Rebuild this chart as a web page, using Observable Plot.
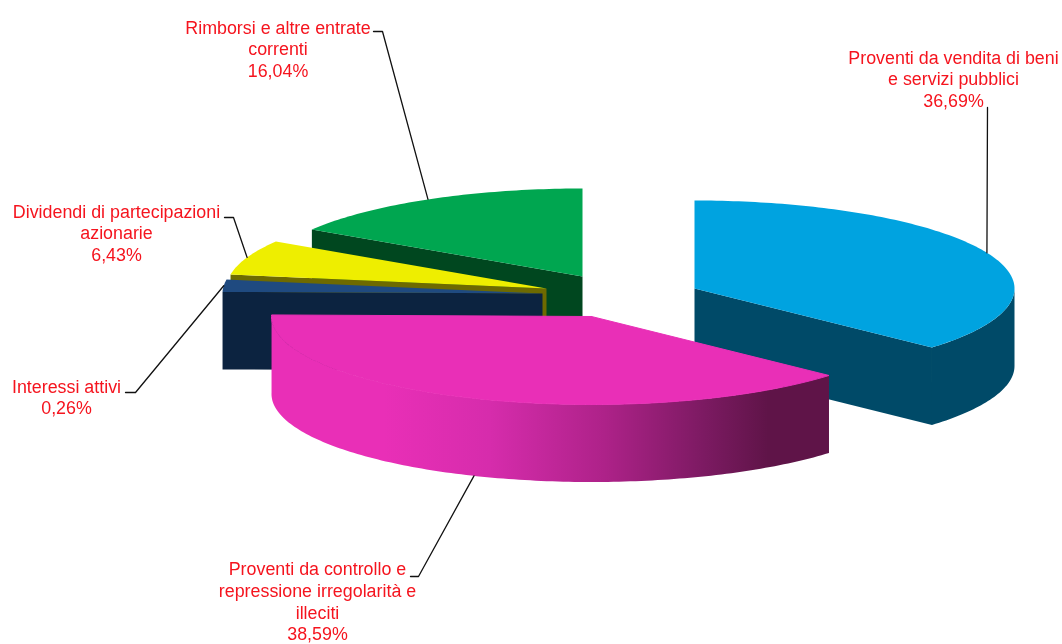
<!DOCTYPE html>
<html>
<head>
<meta charset="utf-8">
<script src="https://cdn.jsdelivr.net/npm/d3@7"></script>
<script src="https://cdn.jsdelivr.net/npm/@observablehq/plot@0.6"></script>
<style>html,body{margin:0;padding:0;background:#fff}svg{display:block;filter:blur(0.35px)}</style>
</head>
<body>
<script>
// Data: slice shares as drawn (%), and the printed labels
const names = ["Proventi da vendita di beni\ne servizi pubblici", "Proventi da controllo e\nrepressione irregolarità e\nilleciti", "Interessi attivi", "Dividendi di partecipazioni\nazionarie", "Rimborsi e altre entrate\ncorrenti"];
const printed = ["36,69%", "38,59%", "0,26%", "6,43%", "16,04%"];
const shares = [36.69, 38.59, 2.25, 6.43, 16.04];
const topColors = ["#00a3e0", "#e92fb7", "#1f4a80", "#eeee00", "#00a650"];
const wallColors = ["#004a68", "url(#magentaWall)", "#0c2340", "#6e6a00", "#00471f"];

// Layout of the exploded pseudo-3D pie
const rx = 320, ry = 88, depth = 77.5;
const centers = [[694, 288], [591, 316], [542, 293], [546, 288], [582, 276]];
const labelAt = [[953, 48], [317, 559.5], [66, 377], [116, 202], [277.5, 18]];
const elbows = [[[987, 107]], [[418, 576], [410, 576]], [[135, 392], [125, 392]], [[233, 217], [224, 217]], [[382, 31], [373, 31]]];
const drawOrder = [4, 3, 2, 0, 1];

const rad = (d) => d * Math.PI / 180;
const pt = (c, a, dy = 0) => ({x: c[0] + rx * Math.sin(rad(a)), y: c[1] - ry * Math.cos(rad(a)) + dy});
const apex = (c, dy = 0) => ({x: c[0], y: c[1] + dy});
const arc = (c, a0, a1, dy = 0) => {
  const n = Math.max(2, Math.ceil(Math.abs(a1 - a0)));
  return d3.range(n + 1).map((i) => pt(c, a0 + (a1 - a0) * i / n, dy));
};

let acc = 0;
const slices = shares.map((v, i) => {
  const a0 = acc * 3.6; acc += v;
  return {i, a0, a1: acc * 3.6, mid: (a0 + acc * 3.6) / 2, c: centers[i]};
});

const marks = [];
for (const i of drawOrder) {
  const s = slices[i], c = s.c;
  // radial cut face: the visible side of each slice
  if (i !== 1) {
    const a = i === 0 ? s.a1 : s.a0;
    marks.push(Plot.line([pt(c, a), apex(c), apex(c, depth), pt(c, a, depth)], {x: "x", y: "y", fill: wallColors[i], stroke: null}));
  }
  // outer rim on the front half
  const r0 = Math.max(s.a0, 90), r1 = Math.min(s.a1, 271);
  if (r1 > r0) {
    marks.push(Plot.line([...arc(c, r0, r1), ...arc(c, r1, r0, depth)], {x: "x", y: "y", fill: wallColors[i], stroke: null}));
  }
  // top face (the magenta one gets a hairline to hide the seam with its rim)
  marks.push(Plot.line([apex(c), ...arc(c, s.a0, s.a1), apex(c)], {
    x: "x", y: "y", fill: topColors[i],
    stroke: i === 1 ? topColors[i] : null, strokeWidth: i === 1 ? 1 : 0
  }));
}

// Leader lines start on each slice's mid-angle
slices.forEach((s) => {
  const start = pt(s.c, s.mid, s.i === 1 ? depth : 0);
  marks.push(Plot.line([start, ...elbows[s.i].map(([x, y]) => ({x, y}))], {x: "x", y: "y", stroke: "#111", strokeWidth: 1.3}));
});

const fontSize = 17.85, lineH = 21.6;
marks.push(Plot.text(slices, {
  x: (s) => labelAt[s.i][0],
  y: (s) => labelAt[s.i][1],
  text: (s) => names[s.i] + "\n" + printed[s.i],
  textAnchor: "middle",
  lineAnchor: "top",
  lineHeight: lineH / fontSize,
  fill: "#f5141e",
  fontSize,
  fontFamily: "Liberation Sans, Arial, sans-serif"
}));

const chart = Plot.plot({
  width: 1062, height: 644,
  margin: 0,
  x: {domain: [0, 1062], range: [0, 1062], axis: null},
  y: {domain: [0, 644], range: [0, 644], axis: null},
  style: {background: "#fff"},
  marks
});

const grad = d3.select(chart).insert("defs", ":first-child")
  .append("linearGradient").attr("id", "magentaWall")
  .attr("gradientUnits", "userSpaceOnUse")
  .attr("x1", 272).attr("x2", 829).attr("y1", 0).attr("y2", 0);
[[0, "#e92fb7"], [0.2, "#e92fb7"], [0.39, "#d62cac"], [0.595, "#ae2289"], [0.775, "#7c1a62"], [0.89, "#5f1448"], [1, "#5f1448"]].forEach(([o, c]) =>
  grad.append("stop").attr("offset", o).attr("stop-color", c));

document.body.appendChild(chart);
</script>
</body>
</html>
